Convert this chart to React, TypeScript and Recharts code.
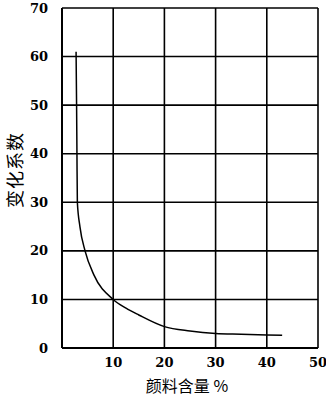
import React from 'react';
import { LineChart, Line, XAxis, YAxis, CartesianGrid } from 'recharts';

// 颜料含量 % vs 变化系数
const pigment = [2.75, 2.85, 2.92, 3.0, 3.5, 4.5, 6.25, 10, 12.5, 15, 20, 25, 30, 35, 40, 43];
const coefficient = [61, 50, 40, 30, 25, 20, 15, 10, 8.2, 6.8, 4.4, 3.5, 3.0, 2.85, 2.7, 2.6];

const xTicks = [10, 20, 30, 40, 50];
const yTicks = [0, 10, 20, 30, 40, 50, 60, 70];

const data = pigment.map((x, i) => ({ x, y: coefficient[i] }));

const tickStyle = { fontSize: 13, fill: '#000', fontFamily: '"DejaVu Serif", serif', fontWeight: 'bold' as const };
const cjk = '"Noto Sans CJK SC", sans-serif';

export default function App() {
  return (
    <div style={{ position: 'absolute', left: 0, top: 0, background: '#fff' }}>
      <LineChart width={326} height={405} data={data} margin={{ top: 8, right: 8, left: 0, bottom: 0 }}>
        <CartesianGrid stroke="#000" strokeWidth={1.6} horizontalValues={yTicks} verticalValues={[0, ...xTicks]} />
        <XAxis
          type="number"
          dataKey="x"
          domain={[0, 50]}
          ticks={xTicks}
          height={57}
          axisLine={{ stroke: '#000', strokeWidth: 2 }}
          tickLine={false}
          tick={tickStyle}
          tickMargin={4}
          label={{ value: '颜料含量 %', position: 'insideTop', offset: 33, fontSize: 16, fill: '#000', fontFamily: cjk, dx: -3 }}
        />
        <YAxis
          type="number"
          domain={[0, 70]}
          ticks={yTicks}
          width={62}
          axisLine={{ stroke: '#000', strokeWidth: 2 }}
          tickLine={false}
          tick={tickStyle}
          tickMargin={8}
          label={{ value: '变化系数', angle: -90, position: 'center', dx: -15, dy: -8, fontSize: 18, letterSpacing: 1, fill: '#000', fontFamily: cjk }}
        />
        <Line
          type="monotone"
          dataKey="y"
          stroke="#000"
          strokeWidth={1.5}
          dot={false}
          isAnimationActive={false}
        />
      </LineChart>
    </div>
  );
}
